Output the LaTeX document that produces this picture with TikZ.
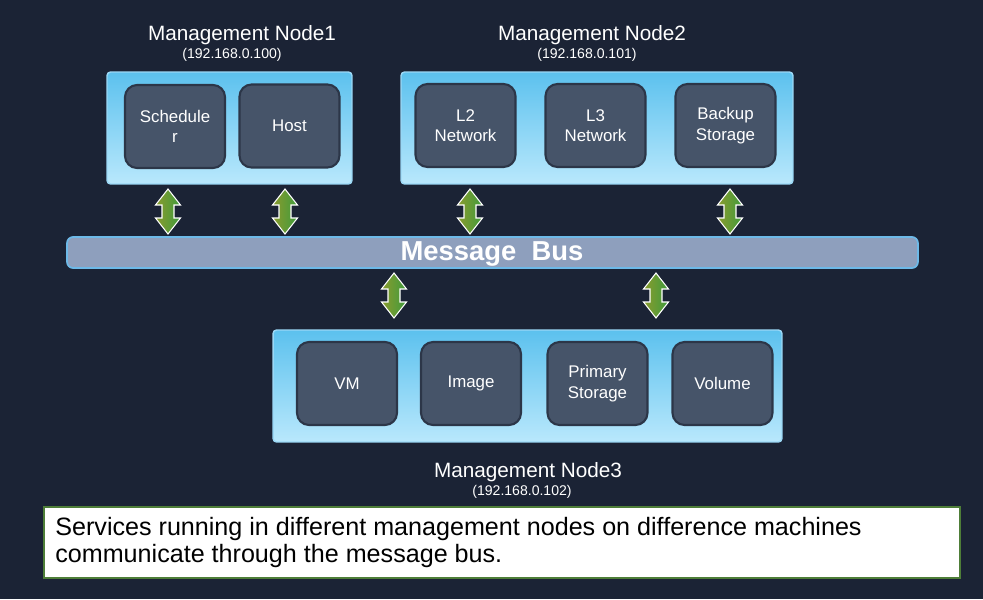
\documentclass[tikz,border=0pt]{standalone}
\usepackage{fontspec}
\setmainfont{Liberation Sans}
\usepackage{xcolor}
\usepackage{tikz}
\usetikzlibrary{arrows.meta,positioning}
\definecolor{bgnavy}{HTML}{1B2335}
\definecolor{svcfill}{HTML}{465469}
\definecolor{svcline}{HTML}{2C3648}
\definecolor{mgmttop}{HTML}{5CC1EE}
\definecolor{mgmtbot}{HTML}{B9E8FC}
\definecolor{mgmtline}{HTML}{9BD8F6}
\definecolor{busfill}{HTML}{8E9FBD}
\definecolor{busline}{HTML}{6DB9E8}
\definecolor{arrolive}{HTML}{8A9B2E}
\definecolor{arrgreen}{HTML}{3F9B3C}
\definecolor{noteline}{HTML}{4E7E38}
\newcommand{\busarrow}[1]{%
  \shade[dblarr] (#1) ++(0,-22.5) -- ++(12.5,16) -- ++(-6.5,0) -- ++(0,13) -- ++(6.5,0)
    -- ++(-12.5,16) -- ++(-12.5,-16) -- ++(6.5,0) -- ++(0,-13) -- ++(-6.5,0) -- cycle;}

\begin{document}
\begin{tikzpicture}[
  x=0.02cm, y=-0.02cm,
  mgmt/.style={draw=mgmtline, line width=0.8pt, top color=mgmttop, bottom color=mgmtbot,
    rounded corners=2pt, minimum height=2.24cm, inner sep=0pt},
  svc/.style={draw=svcline, line width=1.2pt, fill=svcfill, rounded corners=0.24cm,
    minimum width=2cm, minimum height=1.66cm, inner sep=0pt, align=center, text=white!90,
    font=\fontsize{9.6}{11.6}\selectfont},
  ttl/.style={text=white!94, inner sep=0pt, font=\fontsize{11.8}{14}\selectfont},
  ip/.style={text=white!94, inner sep=0pt, font=\fontsize{8}{10}\selectfont},
  dblarr/.style={left color=arrolive, right color=arrgreen, draw=white!85, line width=0.6pt}
]
  \fill[bgnavy] (0,0) rectangle (983,599);
  \useasboundingbox (0,0) rectangle (983,599);

  \node[ttl] (t1) at (242,35) {Management Node1};
  \node[ip] (ip1) at (232,55) {(192.168.0.100)};
  \node[ttl] (t2) at (592,35) {Management Node2};
  \node[ip] (ip2) at (587,55) {(192.168.0.101)};

  \node[mgmt, minimum width=4.9cm] (n1) at (229.5,128) {};
  \node[mgmt, minimum width=7.84cm] (n2) at (597,128) {};
  \node[svc] (sched) at (175,126.5) {Schedule\\r};
  \node[svc] (host) at (289.5,126) {Host};
  \node[svc] (l2) at (465.5,125.5) {L2\\Network};
  \node[svc] (l3) at (595.5,125.5) {L3\\Network};
  \node[svc] (backup) at (725.5,125.5) {Backup\\Storage};

  \node[draw=busline, line width=1pt, fill=busfill, rounded corners=0.12cm,
    minimum width=17.02cm, minimum height=0.62cm, inner sep=0pt] (bus) at (492.5,252.5) {};
  \node[text=white, font=\bfseries\fontsize{15.6}{18}\selectfont, inner sep=0pt]
    (buslbl) at (492,254) {Message\ \ Bus};

  \node[mgmt, minimum width=10.18cm] (n3) at (527.5,386) {};
  \node[svc] (vm) at (347,383.5) {VM};
  \node[svc] (image) at (471,383.5) {Image};
  \node[svc] (primary) at (597.5,383.5) {Primary\\Storage};
  \node[svc] (volume) at (722.5,383.5) {Volume};
  \node[ttl] (t3) at (528,472) {Management Node3};
  \node[ip] (ip3) at (522,492) {(192.168.0.102)};

  \coordinate (a1) at (168,211.5);
  \coordinate (a2) at (285,211.5);
  \coordinate (a3) at (470,211.5);
  \coordinate (a4) at (730,211.5);
  \coordinate (a5) at (394,295.5);
  \coordinate (a6) at (656,295.5);
  \busarrow{a1}
  \busarrow{a2}
  \busarrow{a3}
  \busarrow{a4}
  \busarrow{a5}
  \busarrow{a6}

  \node[draw=noteline, line width=1pt, fill=white, minimum width=18.32cm,
    minimum height=1.42cm, inner sep=0pt] (note) at (502,542.5) {};
  \node[anchor=west, align=left, inner sep=0pt, text=black,
    font=\fontsize{14.3}{15.9}\selectfont] (notetxt) at (55,542.5)
    {Services running in different management nodes on difference machines\\
     communicate through the message bus.};
\end{tikzpicture}
\end{document}
